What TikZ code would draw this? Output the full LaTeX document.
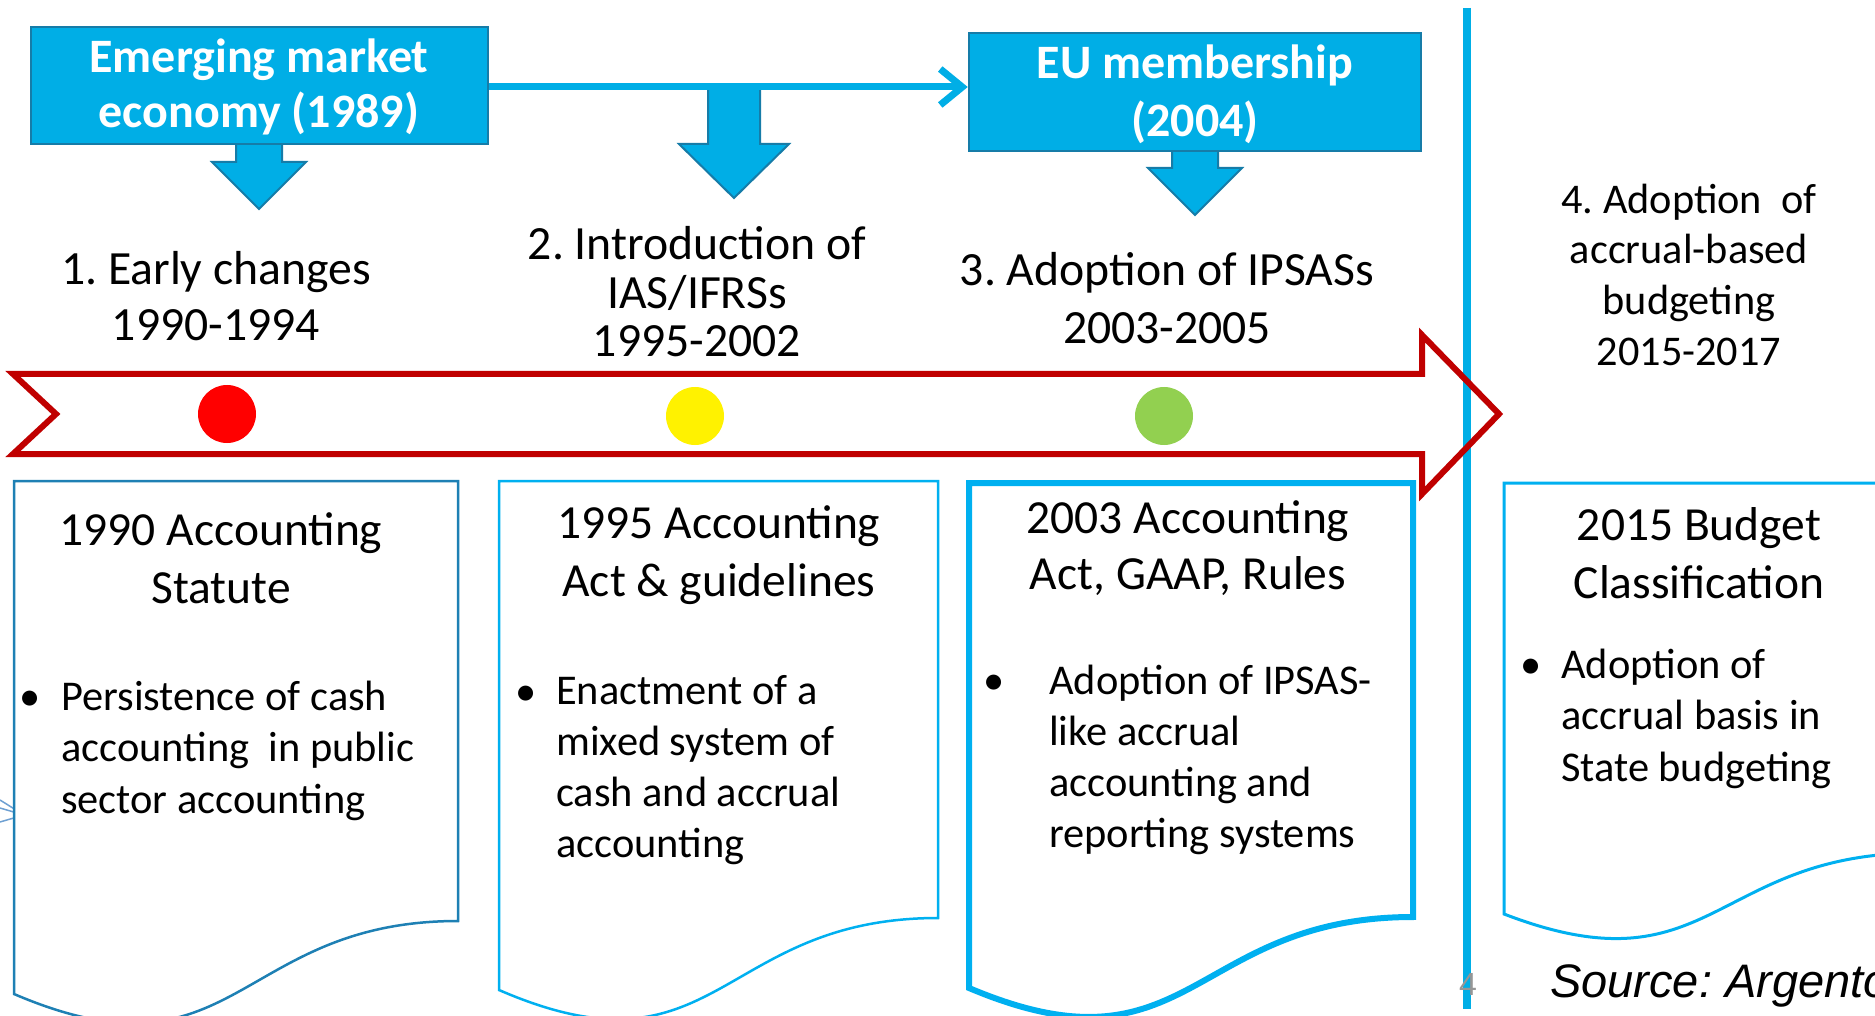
\documentclass[tikz,border=0pt]{standalone}
\usepackage{fontspec}
\setmainfont{Carlito}
\newfontfamily\arialfont{Liberation Sans}
\usetikzlibrary{arrows.meta}
\definecolor{cyanfill}{RGB}{0,174,230}
\definecolor{topborder}{RGB}{22,124,168}
\definecolor{docdark}{RGB}{30,128,180}
\definecolor{doccyan}{RGB}{0,176,240}
\definecolor{timered}{RGB}{192,0,0}
\definecolor{dotgreen}{RGB}{146,208,80}
\definecolor{fragblue}{RGB}{110,160,210}
\definecolor{slidegray}{RGB}{150,150,150}
\frenchspacing
\begin{document}
\begin{tikzpicture}[x=1pt,y=-1pt,
  topbox/.style={draw=topborder, fill=cyanfill, line width=2.5pt, inner sep=0pt},
  blockarrow/.style={draw=topborder, fill=cyanfill, line width=2pt, line join=miter},
  toptext/.style={text=white, font=\bfseries\fontsize{48}{56}\selectfont, align=center, inner sep=0pt, anchor=base},
  phase/.style={font=\fontsize{47.7}{56}\selectfont, align=center, inner sep=0pt, anchor=base},
  doctitle/.style={font=\fontsize{47.5}{58}\selectfont, align=center, inner sep=0pt, anchor=base},
  bullettext/.style={font=\fontsize{42.4}{51.5}\selectfont, align=left, inner sep=0pt, anchor=base west},
  bulletdot/.style={font=\fontsize{42.4}{51.5}\selectfont, inner sep=0pt, anchor=base},
  dot/.style={circle, inner sep=0pt, minimum size=58pt},
  docline/.style={fill=white, line join=miter}
]
\useasboundingbox (0,0) rectangle (1875,1016);
\fill[white] (0,0) rectangle (1875,1016);

% vertical divider
\draw[cyanfill, line width=8pt] (1467,8) -- (1467,1009);

% fragment at the left edge
\draw[fragblue, line width=1.5pt] (0,800) -- (24,815) -- (0,822);
\draw[fragblue, line width=1.5pt] (0,808) -- (24,815);

% document shapes
\draw[docline, draw=docdark, line width=2.5pt] (14,481) -- (458,481) -- (458,921)
  .. controls (236,921) and (236,1089) .. (14,994) -- cycle;
\draw[docline, draw=doccyan, line width=2.5pt] (499,481) -- (938,481) -- (938,918)
  .. controls (718,918) and (718,1085) .. (499,990) -- cycle;
\draw[docline, draw=doccyan, line width=6pt] (969,483) -- (1413,483) -- (1413,917)
  .. controls (1191,917) and (1191,1082) .. (969,988) -- cycle;
\draw[docline, draw=doccyan, line width=3pt] (1504,483) -- (1920,483) -- (1920,853)
  .. controls (1712,853) and (1712,994) .. (1504,914) -- cycle;

% timeline arrow
\draw[timered, line width=6pt, line join=miter] (13,374) -- (1422,374) -- (1422,335)
  -- (1499,414) -- (1422,494) -- (1422,454) -- (13,454) -- (56,414) -- cycle;

% dots
\node[dot, fill=red] (d1) at (227,414) {};
\node[dot, fill=yellow] (d2) at (695,416) {};
\node[dot, fill=dotgreen] (d3) at (1164,416) {};

% block arrows
\draw[blockarrow] (236,140) -- (282,140) -- (282,162) -- (306,162) -- (259,209)
  -- (212,162) -- (236,162) -- cycle;
\draw[blockarrow] (708,87) -- (760,87) -- (760,144) -- (789,144) -- (734,198)
  -- (679,144) -- (708,144) -- cycle;
\draw[blockarrow] (1172,148) -- (1218,148) -- (1218,168) -- (1242,168) -- (1195,215)
  -- (1148,168) -- (1172,168) -- cycle;

% top boxes
\node[topbox, minimum width=457pt, minimum height=117pt] (boxA) at (259.5,85.5) {};
\node[topbox, minimum width=452pt, minimum height=118pt] (boxB) at (1195,92) {};
\draw[cyanfill, line width=7pt, -{Straight Barb[length=22pt,width=36pt]}]
  (boxA.east |- 0,87) -- (boxB.west |- 0,87);

% (base anchor of a multi-line node = baseline of its last line)
\node[toptext, font=\bfseries\fontsize{48}{55}\selectfont] (tA) at (259,128) {Emerging market\\economy (1989)};
\node[toptext, font=\bfseries\fontsize{48}{58}\selectfont] (tB) at (1195,137) {EU membership\\(2004)};

% phase labels
\node[phase] (p1) at (216,341) {1. Early changes\\1990-1994};
\node[phase, font=\fontsize{47.7}{48.5}\selectfont] (p2) at (697,357) {2. Introduction of\\IAS/IFRSs\\1995-2002};
\node[phase, font=\fontsize{47.7}{58}\selectfont] (p3) at (1167,344) {3. Adoption of IPSASs\\2003-2005};
\node[phase, font=\fontsize{42.3}{51}\selectfont] (p4) at (1689,366) {4. Adoption~ of\\accrual-based\\budgeting\\2015-2017};

% document texts
\node[doctitle] (h1) at (221,603) {1990 Accounting\\Statute};
\node[bulletdot] (b1) at (30,710) {•};
\node[bullettext] (x1) at (61,813) {Persistence of cash\\accounting~ in public\\sector accounting};

\node[doctitle] (h2) at (719,596) {1995 Accounting\\Act \& guidelines};
\node[bulletdot] (b2) at (526,705) {•};
\node[bullettext, font=\fontsize{42.4}{50.7}\selectfont] (x2) at (556,857) {Enactment of a\\mixed system of\\cash and accrual\\accounting};

\node[doctitle, font=\fontsize{47.5}{56}\selectfont] (h3) at (1188,589) {2003 Accounting\\Act, GAAP, Rules};
\node[bulletdot] (b3) at (994,694) {•};
\node[bullettext, font=\fontsize{42.4}{51}\selectfont] (x3) at (1049,847) {Adoption of IPSAS-\\like accrual\\accounting and\\reporting systems};

\node[doctitle] (h4) at (1699,598) {2015 Budget\\Classification};
\node[bulletdot] (b4) at (1531,678) {•};
\node[bullettext] (x4) at (1561,781) {Adoption of\\accrual basis in\\State budgeting};

% footer
\node[text=slidegray, font=\arialfont\fontsize{32}{36}\selectfont, inner sep=0pt, anchor=base] (num) at (1468,995) {4};
\node[font=\arialfont\itshape\fontsize{47}{54}\selectfont, inner sep=0pt, anchor=base west] (src) at (1550,997) {Source: Argento};
\end{tikzpicture}
\end{document}
